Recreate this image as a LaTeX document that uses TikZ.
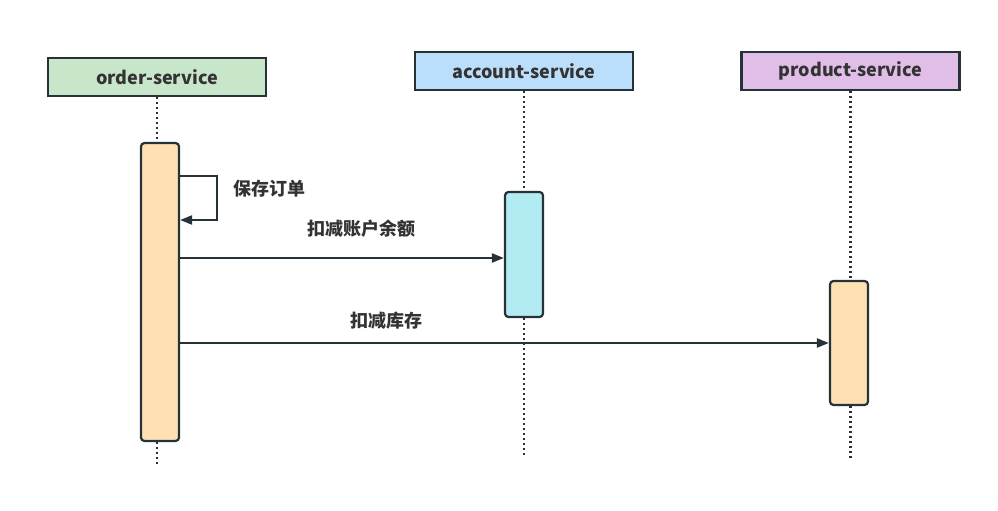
\documentclass[tikz,border=0pt]{standalone}
\usepackage{fontspec}
\setmainfont{Noto Sans CJK SC}
\usetikzlibrary{arrows.meta}
\definecolor{txt}{HTML}{333333}
\definecolor{edge}{HTML}{263238}
\definecolor{ordergreen}{HTML}{C8E6C9}
\definecolor{accountblue}{HTML}{BBDEFB}
\definecolor{productpurple}{HTML}{E1BEE7}
\definecolor{actorange}{HTML}{FFE0B2}
\definecolor{actcyan}{HTML}{B2EBF2}
\begin{document}
\begin{tikzpicture}[x=1pt, y=-1pt, font=\bfseries\fontsize{18}{20}\selectfont, text=txt]
    \tikzstyle{service}=[draw=edge, line width=2.2pt, minimum width=218pt, minimum height=38pt, inner sep=0pt]
    \tikzstyle{activation}=[draw=edge, line width=2.2pt, rounded corners=3.5pt, minimum width=38pt, inner sep=0pt]
    \tikzstyle{lifeline}=[draw=edge, line width=2.2pt, dash pattern=on 2pt off 3pt]
    \tikzstyle{msg}=[draw=edge, line width=2.2pt, -{Triangle[length=12pt, width=9pt]}]
    \useasboundingbox (0,0) rectangle (998,511);

    \node (order) [service, fill=ordergreen] at (157,77) {order-service};
    \node (account) [service, fill=accountblue] at (524,71) {account-service};
    \node (product) [service, fill=productpurple] at (850.5,71) {product-service};

    \node (order-act) [activation, fill=actorange, minimum height=298pt] at (160,292) {};
    \node (account-act) [activation, fill=actcyan, minimum height=125pt] at (524,254.5) {};
    \node (product-act) [activation, fill=actorange, minimum height=124pt] at (849,343) {};

    \coordinate (order-end) at (157,465);
    \coordinate (account-end) at (524,458);
    \coordinate (product-end) at (850.5,458);

    \draw [lifeline] (order.south) -- (order.south |- order-act.north);
    \draw [lifeline] (order.south |- order-act.south) -- (order-end);
    \draw [lifeline] (account.south) -- (account-act.north);
    \draw [lifeline] (account-act.south) -- (account-end);
    \draw [lifeline] (product.south) -- (product.south |- product-act.north);
    \draw [lifeline] (product.south |- product-act.south) -- (product-end);

    \coordinate (save-from) at (order-act.east |- 0,176);
    \coordinate (save-to) at (order-act.east |- 0,220);
    \draw [msg] (save-from) -- ++(37,0) |- (save-to);
    \node (save-label) [anchor=west] at (230,189) {保存订单};

    \coordinate (debit-from) at (order-act.east |- 0,258);
    \draw [msg] (debit-from) -- (account-act.west |- debit-from);
    \node (debit-label) at (361,229) {扣减账户余额};

    \coordinate (stock-from) at (order-act.east |- 0,343);
    \draw [msg] (stock-from) -- (product-act.west |- stock-from);
    \node (stock-label) at (386,321) {扣减库存};
\end{tikzpicture}
\end{document}
